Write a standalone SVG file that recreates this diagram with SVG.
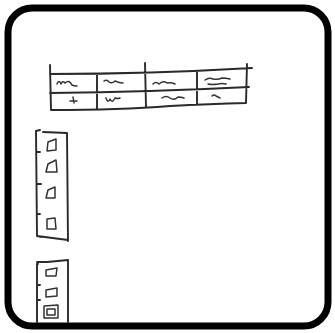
<svg xmlns="http://www.w3.org/2000/svg" width="335" height="333" viewBox="0 0 335 333">
<style>
.s{fill:none;stroke:#2a2a2a;stroke-width:1.9;stroke-linecap:round;stroke-linejoin:round}
.q{fill:none;stroke:#333;stroke-width:1.5;stroke-linecap:round;stroke-linejoin:round}
</style>
<rect width="335" height="333" fill="#fff"/>
<rect x="8" y="8" width="320" height="318" rx="24" fill="#fff" stroke="#000" stroke-width="7"/>
<g id="table">
<path class="s" d="M50 65 L51 110 M50 74 Q150 74 252 68 M50 93 Q150 92 249 87 M51 110 Q120 110 170 106 Q210 104 246 103 M97 74 L97 108 M145 63 L146 107 M197 72 L197 104 M247 64 L246 103"/>
<path class="q" d="M57 84 q2 -5 4 0 q2 -4 4 -1 q4 -4 7 2 q2 1 5 1 M104 81 q3 -2 5 1 q3 2 6 -1 q4 2 8 2 M153 84 q3 -3 6 0 q4 -4 8 -1 q4 -1 8 1 M205 80 q4 -3 8 -1 q5 1 9 -1 q4 0 8 1 M208 84 q4 1 10 0 q4 -1 8 0 M70 101 l7 0 M73 97 l1 6 M106 98 q2 6 4 1 q2 5 5 -1 q3 1 5 0 M162 98 q4 -3 8 0 q4 3 8 -1 q3 0 6 1 M212 96 q2 -2 4 0 l4 2"/>
</g>
<g id="strip1">
<path class="s" d="M40 130 L36 131 L37 236 L42 237 M37 236 Q52 238 68 240 M43 132 L67 133 L68 241 M37 184 L41 184 M37 152 L40 152 M37 214 L40 214"/>
<path class="q" d="M48 142 L56 139 L56 150 L47 151 Z M48 164 L56 160 L57 172 L46 172 Z M48 190 L55 187 L55 198 L46 198 Z M47 219 L55 218 L56 229 L47 229 Z"/>
</g>
<g id="strip2">
<path class="s" d="M38 264 L37 262 L47 262 Q58 261 68 260 L68 322 M37 264 L37 322 M37 285 L40 285 M37 300 L40 300"/>
<path class="q" d="M46 270 L57 268 L56 276 L46 276 Z M46 290 L57 288 L57 296 L46 297 Z M44 306 L58 305 L58 318 L44 318 Z M47 309 L55 309 L55 315 L47 315 Z"/>
</g>
</svg>
